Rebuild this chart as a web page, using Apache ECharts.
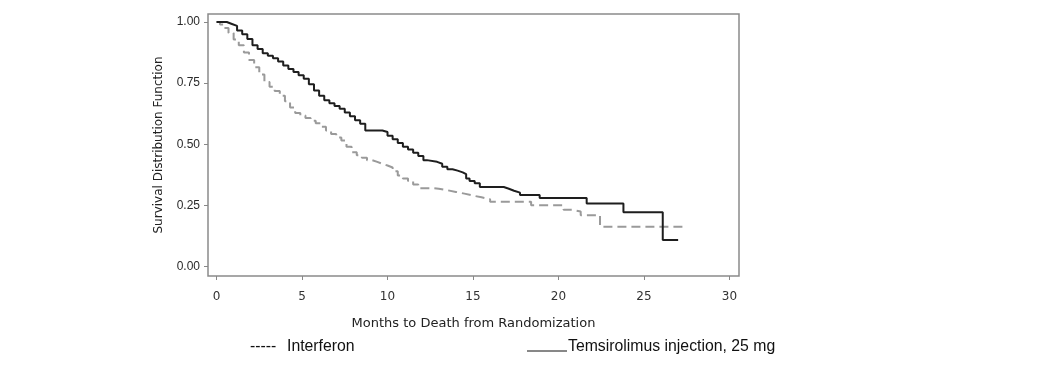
<!DOCTYPE html>
<html>
<head>
<meta charset="utf-8">
<script src="https://cdn.jsdelivr.net/npm/echarts@6/dist/echarts.min.js"></script>
<style>
html,body{margin:0;padding:0;background:#fff;}
#chart{width:1059px;height:370px;}
</style>
</head>
<body>
<div id="chart"></div>
<script>
// Kaplan-Meier estimates (months, survival)
var temsTime = [0, 0.4, 0.6, 0.9, 1.2, 1.5, 1.8, 2.1, 2.4, 2.7, 3.0, 3.3, 3.6, 3.9, 4.2, 4.5, 4.8, 5.1, 5.4, 5.7, 6.0, 6.3, 6.6, 6.9, 7.2, 7.5, 7.8, 8.1, 8.4, 8.7, 9.7, 10.0, 10.3, 10.6, 10.9, 11.2, 11.5, 11.8, 12.1, 12.3, 12.9, 13.2, 13.5, 13.8, 14.1, 14.4, 14.6, 14.8, 15.1, 15.4, 16.8, 17.1, 17.4, 17.75, 18.9, 21.65, 23.8, 26.1, 27.0];
var temsSurv = [1.0, 1.0, 0.992, 0.984, 0.965, 0.95, 0.93, 0.905, 0.89, 0.872, 0.862, 0.852, 0.838, 0.822, 0.808, 0.795, 0.782, 0.768, 0.745, 0.72, 0.698, 0.68, 0.668, 0.656, 0.645, 0.63, 0.614, 0.598, 0.584, 0.556, 0.55, 0.535, 0.52, 0.505, 0.49, 0.478, 0.465, 0.452, 0.435, 0.428, 0.42, 0.408, 0.398, 0.392, 0.385, 0.378, 0.36, 0.35, 0.34, 0.325, 0.318, 0.31, 0.302, 0.292, 0.28, 0.258, 0.222, 0.108, 0.108];

var ifnTime = [0, 0.2, 0.4, 0.7, 1.0, 1.3, 1.6, 1.9, 2.2, 2.5, 2.8, 3.1, 3.4, 3.7, 4.0, 4.3, 4.6, 4.9, 5.2, 5.5, 5.8, 6.1, 6.4, 6.7, 7.0, 7.3, 7.6, 7.9, 8.2, 8.5, 8.8, 9.1, 9.4, 9.7, 10.0, 10.3, 10.6, 10.9, 11.2, 11.5, 11.8, 12.7, 13.0, 13.5, 14.0, 14.5, 15.0, 15.5, 16.0, 18.4, 20.3, 20.8, 21.3, 22.43, 27.4];
var ifnSurv = [1.0, 0.99, 0.975, 0.955, 0.928, 0.905, 0.875, 0.845, 0.815, 0.785, 0.755, 0.735, 0.718, 0.698, 0.676, 0.65, 0.628, 0.618, 0.607, 0.596, 0.586, 0.572, 0.556, 0.542, 0.528, 0.515, 0.49, 0.467, 0.455, 0.445, 0.435, 0.428, 0.42, 0.413, 0.405, 0.39, 0.372, 0.36, 0.35, 0.335, 0.32, 0.318, 0.312, 0.305, 0.298, 0.29, 0.283, 0.275, 0.265, 0.25, 0.232, 0.225, 0.21, 0.163, 0.163];

var xTicks = [0, 5, 10, 15, 20, 25, 30];
var yTicks = [0, 0.25, 0.5, 0.75, 1.0];

var seriesNames = ['Interferon', 'Temsirolimus injection, 25 mg'];
var xTitle = 'Months to Death from Randomization';
var yTitle = 'Survival Distribution Function';

function pairs(t, s) { return t.map(function (v, i) { return [v, s[i]]; }); }

var chart = echarts.init(document.getElementById('chart'));
chart.setOption({
  animation: false,
  backgroundColor: '#fff',
  grid: {
    left: 208, top: 14, right: 320, bottom: 94,
    show: true, borderColor: '#8a8a8a', borderWidth: 1.5, backgroundColor: 'transparent'
  },
  xAxis: {
    type: 'value', min: -0.5, max: 30.56,
    splitLine: { show: false },
    axisLine: { show: false, onZero: false },
    axisTick: { show: true, inside: false, customValues: xTicks, length: 4, lineStyle: { color: '#888', width: 1 } },
    axisLabel: { customValues: xTicks, margin: 15, color: '#333', fontFamily: 'DejaVu Sans', fontSize: 12 },
    name: xTitle, nameLocation: 'middle', nameGap: 41,
    nameTextStyle: { color: '#222', fontFamily: 'DejaVu Sans', fontSize: 13 }
  },
  yAxis: {
    type: 'value', min: -0.0389, max: 1.0327,
    splitLine: { show: false },
    axisLine: { show: false, onZero: false },
    axisTick: { show: true, inside: false, customValues: yTicks, length: 4, lineStyle: { color: '#888', width: 1 } },
    axisLabel: { customValues: yTicks, margin: 8, color: '#2a2a2a', fontFamily: 'Liberation Sans', fontSize: 12,
      formatter: function (v) { return v.toFixed(2); } },
    name: yTitle, nameLocation: 'middle', nameGap: 43, nameRotate: 90,
    nameTextStyle: { color: '#222', fontFamily: 'DejaVu Sans', fontSize: 12 }
  },
  series: [
    {
      name: seriesNames[0], type: 'line', step: 'end', showSymbol: false,
      data: pairs(ifnTime, ifnSurv),
      lineStyle: { color: '#9a9a9a', width: 2, type: [9, 5] }
    },
    {
      name: seriesNames[1], type: 'line', step: 'end', showSymbol: false,
      data: pairs(temsTime, temsSurv),
      lineStyle: { color: '#1e1e1e', width: 2 }
    }
  ],
  graphic: [
    { type: 'text', left: 250, top: 339, style: { text: '-----', fill: '#111', font: '15.8px "Liberation Sans"' } },
    { type: 'text', left: 287, top: 339, style: { text: seriesNames[0], fill: '#111', font: '15.8px "Liberation Sans"' } },
    { type: 'line', shape: { x1: 527, y1: 351, x2: 567, y2: 351 }, style: { stroke: '#111', lineWidth: 1 } },
    { type: 'text', left: 568, top: 339, style: { text: seriesNames[1], fill: '#111', font: '15.8px "Liberation Sans"' } }
  ]
});
</script>
</body>
</html>
